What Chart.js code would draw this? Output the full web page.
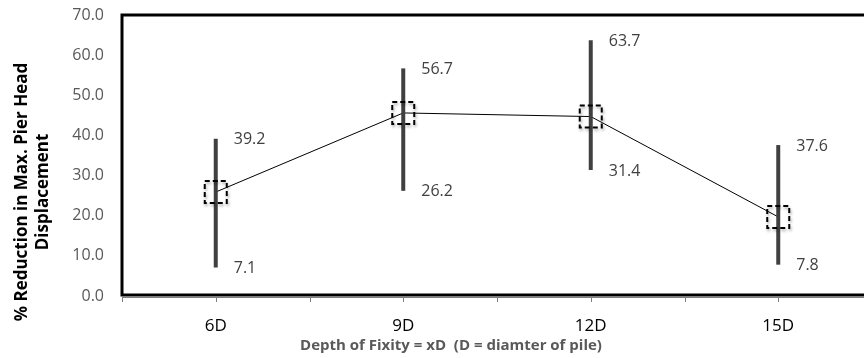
<!DOCTYPE html>
<html>
<head>
<meta charset="utf-8">
<script src="https://cdn.jsdelivr.net/npm/chart.js@4"></script>
<style>
  html, body { margin: 0; padding: 0; background: #fff; overflow: hidden; }
  #wrap { width: 880px; height: 358px; }
</style>
</head>
<body>
<div id="wrap"><canvas id="chart" width="880" height="358"></canvas></div>
<script>
// depth of fixity categories
const categories = ["6D", "9D", "12D", "15D"];
// mean reduction (marker), min and max (error bar ends)
const meanValues = [25.9, 45.6, 44.7, 19.7];
const minValues = [7.1, 26.2, 31.4, 7.8];
const maxValues = [39.2, 56.7, 63.7, 37.6];
const yTicks = [0, 10, 20, 30, 40, 50, 60, 70];

const font = "'Open Sans', 'Liberation Sans', sans-serif";

const rangePlugin = {
  id: "rangePlugin",
  afterDatasetsDraw(chart) {
    const ctx = chart.ctx;
    const x = chart.scales.x;
    const y = chart.scales.y;
    const area = chart.chartArea;

    // error bars
    ctx.save();
    ctx.strokeStyle = "#404040";
    ctx.lineWidth = 4;
    for (let i = 0; i < categories.length; i++) {
      let px = x.getPixelForValue(i);
      ctx.beginPath();
      ctx.moveTo(px, y.getPixelForValue(minValues[i]));
      ctx.lineTo(px, y.getPixelForValue(maxValues[i]));
      ctx.stroke();
    }
    ctx.restore();

    // dashed square markers
    for (let i = 0; i < categories.length; i++) {
      let px = x.getPixelForValue(i);
      let py = y.getPixelForValue(meanValues[i]);
      ctx.save();
      ctx.shadowColor = "rgba(0,0,0,0.35)";
      ctx.shadowBlur = 3;
      ctx.shadowOffsetX = 1;
      ctx.shadowOffsetY = 2;
      ctx.strokeStyle = "#000";
      ctx.lineWidth = 2;
      ctx.setLineDash([5, 3]);
      ctx.strokeRect(px - 11, py - 11, 22, 22);
      ctx.restore();
    }

    // min / max labels
    ctx.save();
    ctx.fillStyle = "#404040";
    ctx.font = "16px " + font;
    ctx.textAlign = "left";
    ctx.textBaseline = "middle";
    for (let i = 0; i < categories.length; i++) {
      let px = x.getPixelForValue(i);
      ctx.fillText(maxValues[i].toFixed(1), px + 18, y.getPixelForValue(maxValues[i]) + 1);
      ctx.fillText(minValues[i].toFixed(1), px + 18, y.getPixelForValue(minValues[i]) + 1);
    }
    ctx.restore();

    // plot frame
    ctx.save();
    ctx.strokeStyle = "#000";
    ctx.lineWidth = 3;
    ctx.beginPath();
    ctx.moveTo(area.left, area.bottom);
    ctx.lineTo(area.left, area.top);
    ctx.lineTo(chart.width, area.top);
    ctx.moveTo(area.left - 1.5, area.bottom - 1);
    ctx.lineTo(chart.width, area.bottom - 1);
    ctx.stroke();
    ctx.strokeStyle = "#7f7f7f";
    ctx.lineWidth = 1;
    ctx.beginPath();
    ctx.moveTo(area.left, area.bottom + 1.5);
    ctx.lineTo(chart.width, area.bottom + 1.5);
    // tick marks at category edges and centers
    let half = (x.getPixelForValue(1) - x.getPixelForValue(0)) / 2;
    for (let i = 0; i < categories.length; i++) {
      let px = x.getPixelForValue(i);
      [px - half, px, px + half].forEach(t => {
        let tx = Math.round(t) + 0.5;
        ctx.moveTo(tx, area.bottom + 1);
        ctx.lineTo(tx, area.bottom + 6);
      });
    }
    ctx.stroke();
    ctx.restore();

    // x axis title
    ctx.save();
    ctx.fillStyle = "#595959";
    ctx.font = "bold 15px " + font;
    ctx.textAlign = "center";
    ctx.textBaseline = "middle";
    ctx.fillText("Depth of Fixity = xD  (D = diamter of pile)", 451, 346);
    ctx.restore();

    // y axis title, two lines
    ctx.save();
    ctx.fillStyle = "#000";
    ctx.font = "bold 17px " + font;
    ctx.textAlign = "center";
    ctx.textBaseline = "alphabetic";
    ctx.translate(0, 192);
    ctx.rotate(-Math.PI / 2);
    ctx.fillText("% Reduction in Max. Pier Head", 0, 27);
    ctx.fillText("Displacement", 0, 48);
    ctx.restore();
  }
};

new Chart(document.getElementById("chart"), {
  type: "line",
  data: {
    labels: categories,
    datasets: [{
      data: meanValues,
      borderColor: "#000",
      borderWidth: 1,
      pointRadius: 0,
      tension: 0,
      fill: false
    }]
  },
  plugins: [rangePlugin],
  options: {
    responsive: false,
    animation: false,
    layout: { padding: { top: 15, right: 8, left: 0, bottom: 0 } },
    plugins: { legend: { display: false }, tooltip: { enabled: false } },
    scales: {
      x: {
        type: "category",
        offset: true,
        grid: { display: false, drawTicks: false },
        border: { display: false },
        ticks: { color: "#000", font: { family: font, size: 17 }, padding: 20, maxRotation: 0 },
        afterFit(scale) { scale.height = 62; scale.paddingLeft = 0; scale.paddingRight = 0; }
      },
      y: {
        min: 0,
        max: 70,
        afterBuildTicks(scale) { scale.ticks = yTicks.map(v => ({ value: v })); },
        grid: { display: false, drawTicks: false },
        border: { display: false },
        ticks: {
          color: "#595959",
          font: { family: font, size: 16 },
          padding: 18,
          callback: v => v.toFixed(1)
        },
        afterFit(scale) { scale.width = 122; scale.paddingTop = 0; scale.paddingBottom = 0; }
      }
    }
  }
});
</script>
</body>
</html>
